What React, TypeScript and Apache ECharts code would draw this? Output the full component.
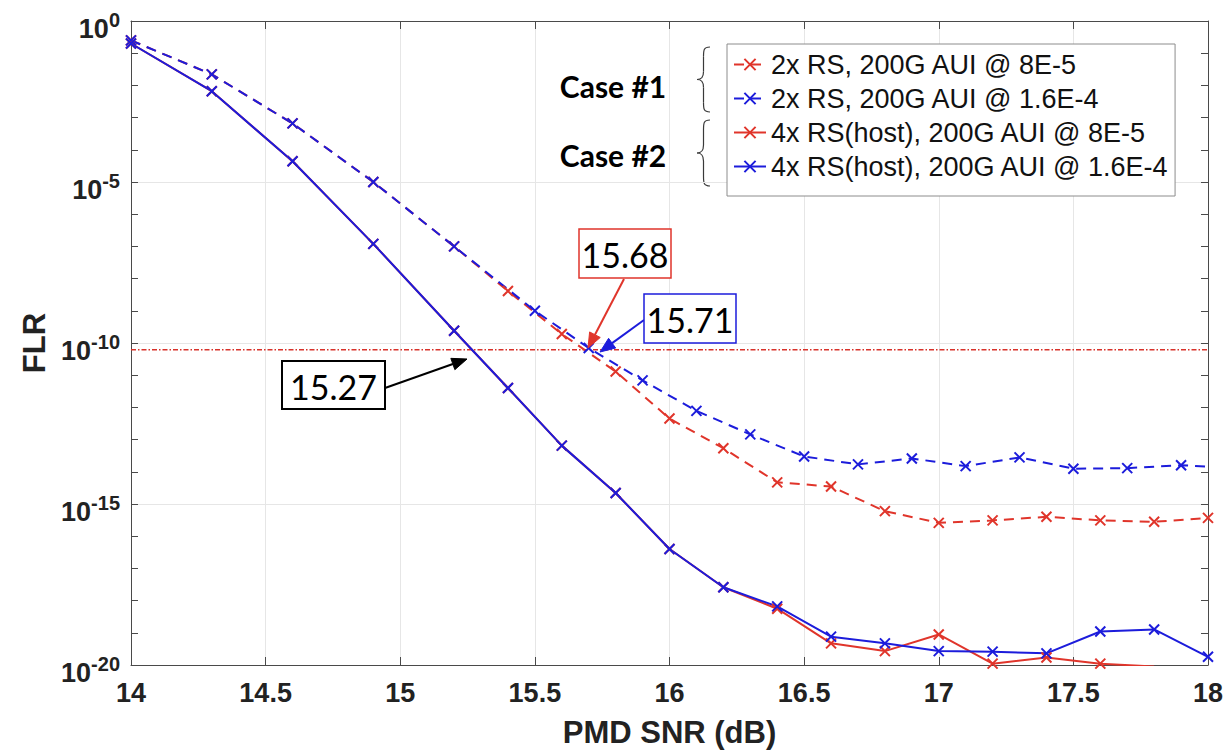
import React, { useEffect, useRef } from 'react';
import * as echarts from 'echarts';

// ---------------- data ----------------
const snrEven = [14, 14.3, 14.6, 14.9, 15.2, 15.4, 15.6, 15.8, 16, 16.2, 16.4, 16.6, 16.8, 17, 17.2, 17.4, 17.6, 17.8, 18];
const snrCase1Blue = [14, 14.3, 14.6, 14.9, 15.2, 15.5, 15.7, 15.9, 16.1, 16.3, 16.5, 16.7, 16.9, 17.1, 17.3, 17.5, 17.7, 17.9, 18.1];
const snrCase2Red = [14, 14.3, 14.6, 14.9, 15.2, 15.4, 15.6, 15.8, 16, 16.2, 16.4, 16.6, 16.8, 17, 17.2, 17.4, 17.6, 17.8];

const flrCase1Red = [0.25, 0.022, 6.6e-4, 1e-5, 1e-7, 4.1e-9, 1.9e-10, 1.3e-11, 4.5e-13, 5.4e-14, 4.7e-15, 3.5e-15, 6e-16, 2.6e-16, 3.1e-16, 4e-16, 3.1e-16, 2.8e-16, 3.7e-16];
const flrCase1Blue = [0.25, 0.022, 6.6e-4, 1e-5, 1e-7, 1e-9, 7e-11, 6.9e-12, 7.8e-13, 1.45e-13, 3e-14, 1.7e-14, 2.6e-14, 1.5e-14, 2.8e-14, 1.25e-14, 1.3e-14, 1.6e-14, 1.3e-14];
const flrCase2Red = [0.2, 6.6e-3, 4.4e-5, 1.2e-7, 2.4e-10, 4e-12, 6.5e-14, 2.2e-15, 4e-17, 2.6e-18, 5.6e-19, 4.7e-20, 2.7e-20, 8.9e-20, 1.1e-20, 1.7e-20, 1.1e-20, 9e-21];
const flrCase2Blue = [0.2, 6.6e-3, 4.4e-5, 1.2e-7, 2.4e-10, 4e-12, 6.5e-14, 2.2e-15, 4e-17, 2.6e-18, 6.6e-19, 7.6e-20, 4.7e-20, 2.7e-20, 2.6e-20, 2.3e-20, 1.1e-19, 1.27e-19, 1.8e-20];

const thresholdSnr = [14, 18];
const thresholdFlr = 6.2e-11;

const seriesNames = [
  '2x RS, 200G AUI @ 8E-5',
  '2x RS, 200G AUI @ 1.6E-4',
  '4x RS(host), 200G AUI @ 8E-5',
  '4x RS(host), 200G AUI @ 1.6E-4',
];
const caseLabels = ['Case #1', 'Case #2'];
const crossLabels = ['15.68', '15.71', '15.27'];

// ---------------- styles ----------------
const RED = '#e0352b';
const BLUE = '#1c1cdb';
const AXIS = '#4a4a4a';
const GRID = '#e6e6e6';
const ARIAL = '"Liberation Sans", Arial, sans-serif';
const CAL = 'Lato, "Open Sans", sans-serif';
const X_SYMBOL = 'path://M0,0L10,10M0,10L10,0';

function pairs(xs: number[], ys: number[]) {
  return xs.map((x, i) => [x, ys[i]]);
}

function lineSeries(name: string, xs: number[], ys: number[], color: string, dashed: boolean) {
  return {
    name,
    type: 'line',
    data: pairs(xs, ys),
    xAxisIndex: 0,
    yAxisIndex: 0,
    symbol: X_SYMBOL,
    symbolSize: 10,
    showAllSymbol: true,
    clip: true,
    itemStyle: { color, borderColor: color, borderWidth: 2 },
    lineStyle: { color, width: 2, type: dashed ? [10, 7] : 'solid' },
    emphasis: { disabled: true },
    z: 3,
  };
}

function arrow(x1: number, y1: number, x2: number, y2: number, color: string) {
  const dx = x2 - x1;
  const dy = y2 - y1;
  const len = Math.sqrt(dx * dx + dy * dy);
  const ux = dx / len;
  const uy = dy / len;
  const hl = 15;
  const hw = 6;
  const bx = x2 - ux * hl;
  const by = y2 - uy * hl;
  const px = -uy;
  const py = ux;
  return [
    { type: 'line', shape: { x1, y1, x2: bx, y2: by }, style: { stroke: color, lineWidth: 2 }, z: 20 },
    {
      type: 'polygon',
      shape: { points: [[x2, y2], [bx + px * hw, by + py * hw], [bx - px * hw, by - py * hw]] },
      style: { fill: color, stroke: color, lineWidth: 1 },
      z: 20,
    },
  ];
}

function labelBox(text: string, x: number, y: number, w: number, h: number, color: string, lw: number) {
  return [
    { type: 'rect', shape: { x, y, width: w, height: h }, style: { fill: '#fff', stroke: color, lineWidth: lw }, z: 20 },
    {
      type: 'text',
      style: { text, x: x + w / 2, y: y + h / 2 + 1, align: 'center', verticalAlign: 'middle', font: `34px ${CAL}`, fill: '#000' },
      z: 21,
    },
  ];
}

function brace(x0: number, yTop: number, yBot: number, w: number) {
  const xm = x0 + w / 2;
  const xe = x0 + w;
  const h = yBot - yTop;
  const ym = (yTop + yBot) / 2;
  const st = { stroke: '#3a3a3a', lineWidth: 1.2, fill: 'none' };
  return [
    { type: 'bezierCurve', shape: { x1: xe, y1: yTop, x2: xm, y2: yTop + 0.15 * h, cpx1: xm, cpy1: yTop, cpx2: xm, cpy2: yTop + 0.05 * h }, style: st },
    { type: 'line', shape: { x1: xm, y1: yTop + 0.15 * h, x2: xm, y2: ym - 0.12 * h }, style: st },
    { type: 'bezierCurve', shape: { x1: xm, y1: ym - 0.12 * h, x2: x0, y2: ym, cpx1: xm, cpy1: ym - 0.02 * h, cpx2: x0 + 0.3 * w, cpy2: ym }, style: st },
    { type: 'bezierCurve', shape: { x1: x0, y1: ym, x2: xm, y2: ym + 0.12 * h, cpx1: x0 + 0.3 * w, cpy1: ym, cpx2: xm, cpy2: ym + 0.02 * h }, style: st },
    { type: 'line', shape: { x1: xm, y1: ym + 0.12 * h, x2: xm, y2: yBot - 0.15 * h }, style: st },
    { type: 'bezierCurve', shape: { x1: xm, y1: yBot - 0.15 * h, x2: xe, y2: yBot, cpx1: xm, cpy1: yBot - 0.05 * h, cpx2: xm, cpy2: yBot }, style: st },
  ];
}

const noMinor = {
  minorTick: { show: false },
  minorSplitLine: { show: false },
  splitArea: { show: false },
};

export default function App() {
  const ref = useRef<HTMLDivElement>(null);
  useEffect(() => {
    if (!ref.current) return;
    const chart = echarts.init(ref.current, undefined, { renderer: 'svg' });

    const logTickAxis = (position: string, showLine: boolean) => ({
      type: 'log',
      logBase: 10,
      min: 1e-20,
      max: 1,
      interval: 1,
      position,
      ...noMinor,
      axisLine: { show: showLine, lineStyle: { color: AXIS, width: 1 } },
      axisTick: { show: true, inside: true, length: 7, lineStyle: { color: AXIS, width: 1 } },
      axisLabel: { show: false },
      splitLine: { show: false },
    });

    const option: any = {
      animation: false,
      backgroundColor: '#fff',
      grid: { left: 131, right: 21, top: 21, bottom: 83, containLabel: false },
      legend: {
        data: seriesNames,
        orient: 'vertical',
        left: 727,
        top: 44,
        itemWidth: 32,
        itemHeight: 14,
        itemGap: 7,
        padding: [7, 6, 16, 6],
        backgroundColor: '#fff',
        borderColor: '#8c8c8c',
        borderWidth: 1,
        borderRadius: 0,
        textStyle: { fontSize: 27, fontFamily: ARIAL, color: '#111' },
        selectedMode: false,
      },
      xAxis: [
        {
          type: 'value',
          min: 14,
          max: 18,
          interval: 0.5,
          position: 'bottom',
          ...noMinor,
          axisLine: { lineStyle: { color: AXIS, width: 1 } },
          axisTick: { inside: true, length: 8, lineStyle: { color: AXIS, width: 1 } },
          axisLabel: { fontSize: 27, fontWeight: 'bold', fontFamily: ARIAL, color: '#222', margin: 14 },
          splitLine: { show: true, lineStyle: { color: GRID, width: 1 } },
          name: 'PMD SNR (dB)',
          nameLocation: 'middle',
          nameGap: 52,
          nameTextStyle: { fontSize: 31, fontWeight: 'bold', fontFamily: ARIAL, color: '#222' },
        },
        {
          type: 'value',
          min: 14,
          max: 18,
          interval: 0.5,
          position: 'top',
          ...noMinor,
          axisLine: { lineStyle: { color: AXIS, width: 1 } },
          axisTick: { inside: true, length: 8, lineStyle: { color: AXIS, width: 1 } },
          axisLabel: { show: false },
          splitLine: { show: false },
        },
      ],
      yAxis: [
        {
          type: 'log',
          logBase: 10,
          min: 1e-20,
          max: 1,
          interval: 5,
          position: 'left',
          ...noMinor,
          axisLine: { show: true, lineStyle: { color: AXIS, width: 1 } },
          axisTick: { show: false },
          axisLabel: {
            margin: 11,
            padding: [10, 0, 0, 0],
            formatter: (v: number) => `{b|10}{s|${Math.round(Math.log10(v))}}`,
            rich: {
              b: { fontSize: 27, fontWeight: 'bold', fontFamily: ARIAL, color: '#222', verticalAlign: 'bottom' },
              s: { fontSize: 20, fontWeight: 'bold', fontFamily: ARIAL, color: '#222', verticalAlign: 'bottom', padding: [0, 0, 13, 0] },
            },
          },
          splitLine: { show: true, lineStyle: { color: GRID, width: 1 } },
          name: 'FLR',
          nameLocation: 'middle',
          nameGap: 80,
          nameTextStyle: { fontSize: 31, fontWeight: 'bold', fontFamily: ARIAL, color: '#222' },
        },
        logTickAxis('left', false),
        logTickAxis('right', true),
      ],
      series: [
        {
          name: 'threshold',
          type: 'line',
          data: thresholdSnr.map((x) => [x, thresholdFlr]),
          symbol: 'none',
          lineStyle: { color: '#d8322a', width: 1.5, type: [5, 2, 1.5, 2] },
          emphasis: { disabled: true },
          z: 2,
        },
        lineSeries(seriesNames[0], snrEven, flrCase1Red, RED, true),
        lineSeries(seriesNames[1], snrCase1Blue, flrCase1Blue, BLUE, true),
        lineSeries(seriesNames[2], snrCase2Red, flrCase2Red, RED, false),
        lineSeries(seriesNames[3], snrEven, flrCase2Blue, BLUE, false),
      ],
      graphic: {
        elements: [
          ...brace(697, 47, 112, 13),
          ...brace(697, 120, 186, 13),
          {
            type: 'text',
            style: { text: caseLabels[0], x: 613, y: 86, align: 'center', verticalAlign: 'middle', font: `bold 30px ${CAL}`, fill: '#000' },
          },
          {
            type: 'text',
            style: { text: caseLabels[1], x: 613, y: 155, align: 'center', verticalAlign: 'middle', font: `bold 30px ${CAL}`, fill: '#000' },
          },
          ...arrow(624, 279, 588, 348, RED),
          ...arrow(644, 320, 600, 352, BLUE),
          ...arrow(385, 388, 467, 359, '#000'),
          ...labelBox(crossLabels[0], 579, 229, 92, 49, RED, 1.5),
          ...labelBox(crossLabels[1], 644, 294, 92, 49, BLUE, 1.5),
          ...labelBox(crossLabels[2], 282, 361, 103, 48, '#000', 2),
        ],
      },
    };
    chart.setOption(option);
    return () => chart.dispose();
  }, []);
  return <div ref={ref} style={{ position: 'absolute', left: 0, top: 0, width: 1229, height: 753, background: '#fff' }} />;
}
